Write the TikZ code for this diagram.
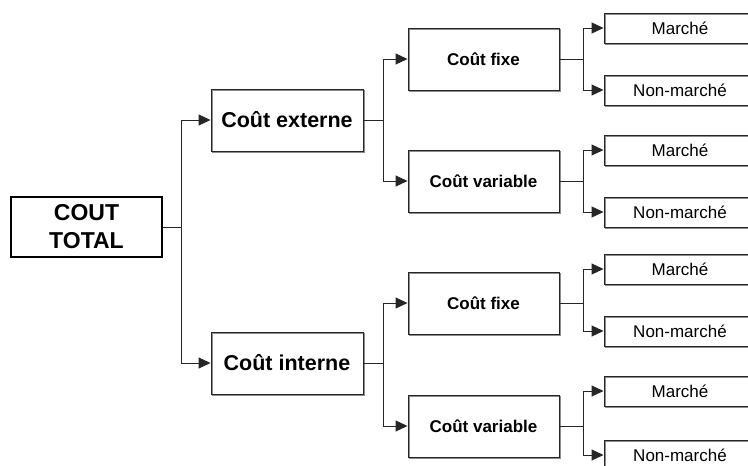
\documentclass[tikz,border=0pt]{standalone}
\usepackage{fontspec}
\setmainfont{Liberation Sans}
\usetikzlibrary{arrows.meta}

\begin{document}
\begin{tikzpicture}[
    x=1pt, y=-1pt,
    totalbox/.style={rectangle, draw=black, line width=2.4pt, align=center,
      minimum width=151pt, minimum height=60pt, inner sep=0pt,
      font=\fontsize{23}{28}\selectfont\bfseries},
    costbox/.style={rectangle, draw=black!85, line width=0.9pt, align=center,
      minimum width=152pt, minimum height=62pt, inner sep=0pt,
      preaction={draw=black!45, line width=1pt, transform canvas={shift={(1pt,-1pt)}}},
      font=\fontsize{21.5}{26}\selectfont\bfseries},
    partbox/.style={costbox, minimum width=151pt, font=\fontsize{17}{20}\selectfont\bfseries},
    leafbox/.style={costbox, minimum height=30pt, font=\fontsize{17}{20}\selectfont},
    ar/.style={-{Triangle[length=12pt, width=11pt]}, draw=black!85, line width=0.9pt}]
  \useasboundingbox (0,0) rectangle (748,466);
  \clip (0,0) rectangle (748,466);
  % root and first level
  \node[totalbox] (tot) at (86.5,227) {COUT\\TOTAL};
  \node[costbox] (ext) at (287,120) {Coût externe};
  \node[costbox] (int) at (287,363) {Coût interne};
  % second level
  \node[partbox] (efix) at (483.5,59) {Coût fixe};
  \node[partbox] (evar) at (483.5,181) {Coût variable};
  \node[partbox] (ifix) at (483.5,303) {Coût fixe};
  \node[partbox] (ivar) at (483.5,426) {Coût variable};
  % leaves
  \node[leafbox] (efm) at (680,28) {Marché};
  \node[leafbox] (efn) at (680,90) {Non-marché};
  \node[leafbox] (evm) at (680,150) {Marché};
  \node[leafbox] (evn) at (680,212) {Non-marché};
  \node[leafbox] (ifm) at (680,269) {Marché};
  \node[leafbox] (ifn) at (680,331) {Non-marché};
  \node[leafbox] (ivm) at (680,391) {Marché};
  \node[leafbox] (ivn) at (680,455) {Non-marché};
  % connectors
  \draw[ar] (tot.east) -- ++(18,0) |- (ext.west);
  \draw[ar] (tot.east) -- ++(18,0) |- (int.west);
  \draw[ar] (ext.east) -- ++(20,0) |- (efix.west);
  \draw[ar] (ext.east) -- ++(20,0) |- (evar.west);
  \draw[ar] (int.east) -- ++(20,0) |- (ifix.west);
  \draw[ar] (int.east) -- ++(20,0) |- (ivar.west);
  \draw[ar] (efix.east) -- ++(24,0) |- (efm.west);
  \draw[ar] (efix.east) -- ++(24,0) |- (efn.west);
  \draw[ar] (evar.east) -- ++(24,0) |- (evm.west);
  \draw[ar] (evar.east) -- ++(24,0) |- (evn.west);
  \draw[ar] (ifix.east) -- ++(24,0) |- (ifm.west);
  \draw[ar] (ifix.east) -- ++(24,0) |- (ifn.west);
  \draw[ar] (ivar.east) -- ++(24,0) |- (ivm.west);
  \draw[ar] (ivar.east) -- ++(24,0) |- (ivn.west);
\end{tikzpicture}
\end{document}
